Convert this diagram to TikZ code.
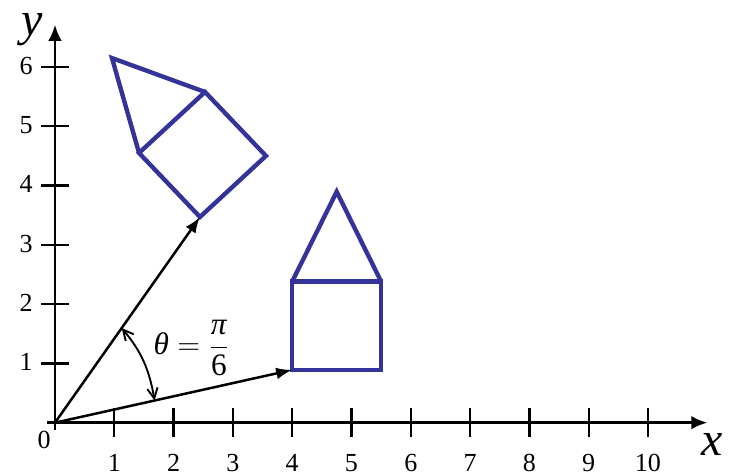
\documentclass[tikz,border=0pt]{standalone}
\usepackage{fontspec}
\setmainfont{Liberation Serif}
\usetikzlibrary{arrows.meta,calc}
\definecolor{house}{RGB}{51,51,153}
\begin{document}
\begin{tikzpicture}[x=1cm,y=1cm,
  axis/.style={line width=1.2pt,-{Latex[length=0.27cm,width=0.23cm]}},
  vec/.style={line width=1.2pt,-{Latex[length=0.27cm,width=0.2cm]}},
  tick/.style={line width=1.1pt},
  ticklbl/.style={inner sep=0pt,font=\fontsize{12.5}{14}\selectfont},
  axlbl/.style={inner sep=0pt,font=\fontsize{23}{26}\selectfont\itshape},
  housepath/.style={draw=house,line width=2.1pt,line join=miter},
  anglearc/.style={line width=0.9pt,{Straight Barb[length=5pt,width=5pt]}-{Straight Barb[length=5pt,width=5pt]}}]
\useasboundingbox (-0.9275,-0.882) rectangle (11.417,7.128);
\coordinate (O) at (0,0);
\coordinate (xs) at (-0.135,0);
\coordinate (xe) at (11.0,0);
\coordinate (ys) at (0,-0.13);
\coordinate (ye) at (0,6.71);
% houses
\draw[housepath] (4,0.89) -- (5.5,0.89) -- (5.5,2.38) -- (4,2.38) -- cycle;
\draw[housepath] (4,2.38) -- (4.75,3.895) -- (5.5,2.38);
\draw[housepath] (2.445,3.469) -- (3.558,4.499) -- (2.530,5.577) -- (1.417,4.549) -- cycle;
\draw[housepath] (1.417,4.549) -- (0.961,6.149) -- (2.530,5.577);
% axes
\draw[axis] (xs) -- (xe);
\draw[axis] (ys) -- (ye);
\foreach \i in {1,...,10} {
  \draw[tick] (\i,-0.24) -- (\i,0.24);
  \node[ticklbl,anchor=base] (xl\i) at (\i,-0.826) {\i};
}
\foreach \j in {1,...,6} {
  \draw[tick] (-0.24,\j) -- (0.24,\j);
  \node[ticklbl,anchor=base east] (yl\j) at (-0.37,\j-0.123) {\j};
}
\node[ticklbl] (zero) at (-0.185,-0.295) {0};
\node[axlbl,anchor=base] (xlab) at (11.08,-0.545) {x};
\node[axlbl,anchor=base] (ylab) at (-0.39,6.53) {y};
% vectors
\coordinate (P) at (4,0.89);
\coordinate (Q) at (2.445,3.469);
\draw[vec] (O) -- (P);
\draw[vec] (O) -- (Q);
% angle
\coordinate (A) at ($(O)!0.46!(Q)$);
\coordinate (B) at ($(O)!0.42!(P)$);
\draw[anglearc] (A) to[out=-50,in=100] (B);
\node[inner sep=0pt,font=\fontsize{15}{17}\selectfont] (theta) at (2.3,1.26)
  {$\hbox{\itshape θ} = \displaystyle\frac{\hbox{\itshape π}}{\hbox{6}}$};
\end{tikzpicture}
\end{document}
